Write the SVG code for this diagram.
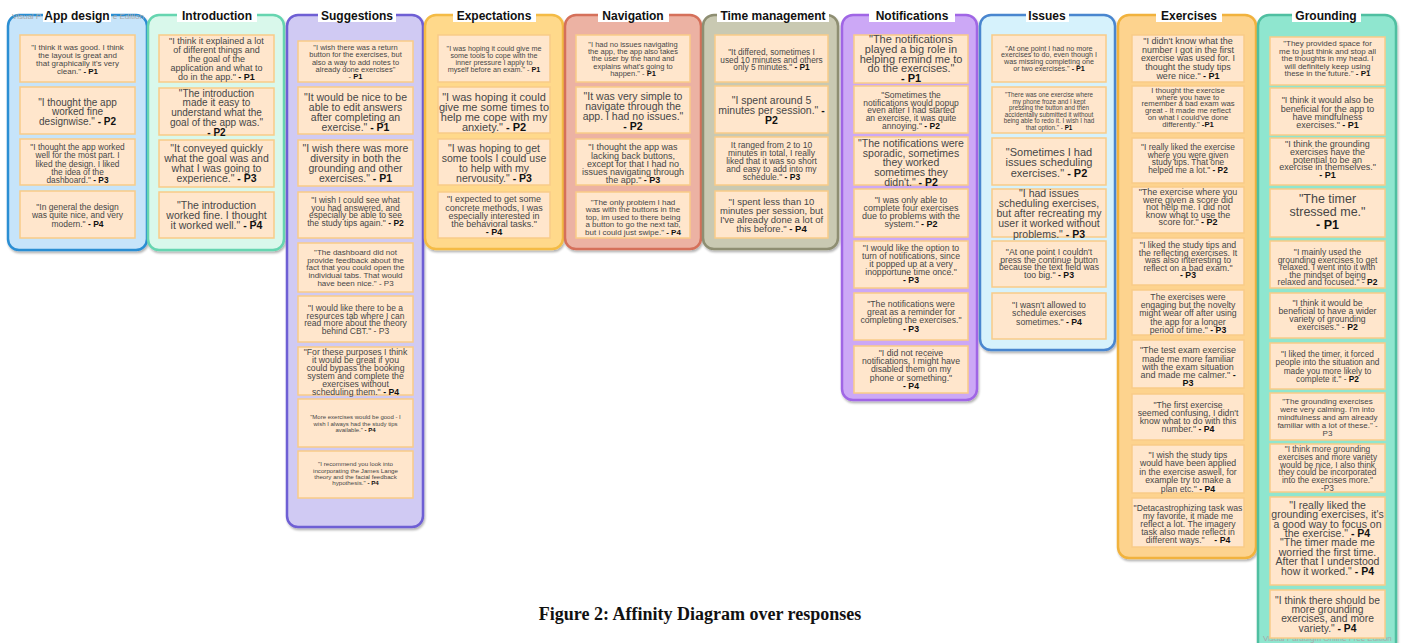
<svg xmlns="http://www.w3.org/2000/svg" width="1403" height="643" viewBox="0 0 1403 643">
<defs>
<filter id="sh" x="-10%" y="-5%" width="125%" height="115%"><feDropShadow dx="1" dy="2" stdDeviation="1.3" flood-color="#000" flood-opacity="0.3"/></filter>
<style>
.col{stroke-width:2.5;filter:url(#sh)}
.card{fill:#FFE6CC;stroke:#F9CB88;stroke-width:1.5}
.t{font-family:"Liberation Sans",Arial,sans-serif;fill:#474747;text-anchor:middle}
.b{font-weight:bold;fill:#111}
.ttl{font-family:"Liberation Sans",Arial,sans-serif;font-weight:bold;font-size:12px;text-anchor:middle;fill:#111}
.tbg{fill:#fff}
.wm{font-family:"Liberation Sans",Arial,sans-serif;font-size:8px;fill:#a8a8a8}
.cap{font-family:"Liberation Serif","Times New Roman",serif;font-weight:bold;font-size:18px;text-anchor:middle;fill:#111}
</style>
</defs>
<rect width="1403" height="643" fill="#fff"/>

<!-- columns -->
<g id="col-app-design">
<rect class="col" x="8" y="15" width="139" height="235" rx="11" fill="#C6E4FA" stroke="#2C8ED3"/>
<text class="wm" x="12" y="19">Visual P</text>
<text class="wm" x="144" y="19" text-anchor="end">e Edition</text>
<rect class="tbg" x="43" y="9" width="68" height="13"/>
<text class="ttl" x="77" y="20">App design</text>
</g>
<g id="col-introduction">
<rect class="col" x="148" y="15" width="136" height="235" rx="11" fill="#D9F8EB" stroke="#66D5B0"/>
<rect class="tbg" x="177" y="9" width="80" height="13"/>
<text class="ttl" x="217" y="20">Introduction</text>
</g>
<g id="col-suggestions">
<rect class="col" x="287" y="15" width="136" height="512" rx="11" fill="#D0CAF3" stroke="#6E5ED4"/>
<rect class="tbg" x="318" y="9" width="78" height="13"/>
<text class="ttl" x="357" y="20">Suggestions</text>
</g>
<g id="col-expectations">
<rect class="col" x="425" y="15" width="138" height="234" rx="11" fill="#FFD98B" stroke="#F4BB44"/>
<rect class="tbg" x="453" y="9" width="83" height="13"/>
<text class="ttl" x="494" y="20">Expectations</text>
</g>
<g id="col-navigation">
<rect class="col" x="565" y="15" width="136" height="234" rx="11" fill="#ECB2A3" stroke="#D5705A"/>
<rect class="tbg" x="598" y="9" width="71" height="13"/>
<text class="ttl" x="633" y="20">Navigation</text>
</g>
<g id="col-time-management">
<rect class="col" x="703" y="15" width="135" height="234" rx="11" fill="#C9C9B2" stroke="#8E8E72"/>
<rect class="tbg" x="717" y="9" width="112" height="13"/>
<text class="ttl" x="773" y="20">Time management</text>
</g>
<g id="col-notifications">
<rect class="col" x="842" y="15" width="135" height="385" rx="11" fill="#CCA8F6" stroke="#A066E5"/>
<rect class="tbg" x="869" y="9" width="86" height="13"/>
<text class="ttl" x="912" y="20">Notifications</text>
</g>
<g id="col-issues">
<rect class="col" x="980" y="15" width="135" height="335" rx="11" fill="#D6F2FC" stroke="#4A86CF"/>
<rect class="tbg" x="1026" y="9" width="43" height="13"/>
<text class="ttl" x="1047" y="20">Issues</text>
</g>
<g id="col-exercises">
<rect class="col" x="1118" y="15" width="138" height="543" rx="11" fill="#FDD38E" stroke="#F1B23C"/>
<rect class="tbg" x="1156" y="9" width="66" height="13"/>
<text class="ttl" x="1189" y="20">Exercises</text>
</g>
<g id="col-grounding">
<rect class="col" x="1258" y="15" width="138" height="640" rx="11" fill="#8FE6CF" stroke="#50BFA1"/>
<rect class="tbg" x="1292" y="9" width="69" height="13"/>
<text class="ttl" x="1326" y="20">Grounding</text>
<text class="wm" x="1263" y="641" font-size="7.5">Visual Paradigm Online Free Edition</text>
</g>

<g id="connectors"/>

<!-- App design cards -->
<g id="app-1"><rect class="card" x="20" y="35" width="115" height="47"/>
<text class="t" font-size="8"><tspan x="77.5" y="50">"I think it was good. I think</tspan><tspan x="77.5" y="58">the layout is great and</tspan><tspan x="77.5" y="66">that graphically it's very</tspan><tspan x="77.5" y="74">clean."  <tspan class="b">- P1</tspan></tspan></text></g>
<g id="app-2"><rect class="card" x="20" y="87" width="115" height="47"/>
<text class="t" font-size="10"><tspan x="77.5" y="105.6">"I thought the app</tspan><tspan x="77.5" y="115.3">worked fine</tspan><tspan x="77.5" y="125">designwise." <tspan class="b">- P2</tspan></tspan></text></g>
<g id="app-3"><rect class="card" x="20" y="139" width="115" height="46"/>
<text class="t" font-size="8.3"><tspan x="77.5" y="150">"I thought the app worked</tspan><tspan x="77.5" y="158.3">well for the most part. I</tspan><tspan x="77.5" y="166.6">liked the design. I liked</tspan><tspan x="77.5" y="174.9">the idea of the</tspan><tspan x="77.5" y="183.2">dashboard." <tspan class="b">- P3</tspan></tspan></text></g>
<g id="app-4"><rect class="card" x="20" y="191" width="115" height="47"/>
<text class="t" font-size="8.5"><tspan x="77.5" y="210">"In general the design</tspan><tspan x="77.5" y="218.3">was quite nice, and very</tspan><tspan x="77.5" y="226.6">modern." <tspan class="b">- P4</tspan></tspan></text></g>

<!-- Introduction cards -->
<g id="intro-1"><rect class="card" x="159" y="35" width="115" height="47"/>
<text class="t" font-size="9"><tspan x="216.5" y="44">"I think it explained a lot</tspan><tspan x="216.5" y="53">of different things and</tspan><tspan x="216.5" y="62">the goal of the</tspan><tspan x="216.5" y="71">application and what to</tspan><tspan x="216.5" y="80">do in the app." <tspan class="b">- P1</tspan></tspan></text></g>
<g id="intro-2"><rect class="card" x="159" y="88" width="115" height="47"/>
<text class="t" font-size="10"><tspan x="216.5" y="96.6">"The introduction</tspan><tspan x="216.5" y="106.4">made it easy to</tspan><tspan x="216.5" y="116.2">understand what the</tspan><tspan x="216.5" y="126">goal of the app was."</tspan><tspan x="216.5" y="135.6" class="b">- P2</tspan></text></g>
<g id="intro-3"><rect class="card" x="159" y="140" width="115" height="47"/>
<text class="t" font-size="10.5"><tspan x="216.5" y="151.8">"It conveyed quickly</tspan><tspan x="216.5" y="161.8">what the goal was and</tspan><tspan x="216.5" y="171.8">what I was going to</tspan><tspan x="216.5" y="181.8">experience." <tspan class="b">- P3</tspan></tspan></text></g>
<g id="intro-4"><rect class="card" x="159" y="192" width="115" height="46"/>
<text class="t" font-size="10.5"><tspan x="216.5" y="208.8">"The introduction</tspan><tspan x="216.5" y="218.8">worked fine. I thought</tspan><tspan x="216.5" y="228.8">it worked well." <tspan class="b">- P4</tspan></tspan></text></g>

<!-- Suggestions cards -->
<g id="sugg-1"><rect class="card" x="298" y="41" width="115" height="41"/>
<text class="t" font-size="7.5"><tspan x="355.5" y="50">"I wish there was a return</tspan><tspan x="355.5" y="57.3">button for the exercises, but</tspan><tspan x="355.5" y="64.6">also a way to add notes to</tspan><tspan x="355.5" y="71.9">already done exercises"</tspan><tspan x="355.5" y="79.2">- <tspan class="b">P1</tspan></tspan></text></g>
<g id="sugg-2"><rect class="card" x="298" y="87" width="115" height="47"/>
<text class="t" font-size="10.5"><tspan x="355.5" y="100.8">"It would be nice to be</tspan><tspan x="355.5" y="110.8">able to edit answers</tspan><tspan x="355.5" y="120.8">after completing an</tspan><tspan x="355.5" y="130.8">exercise." <tspan class="b">- P1</tspan></tspan></text></g>
<g id="sugg-3"><rect class="card" x="298" y="140" width="115" height="46"/>
<text class="t" font-size="10.5"><tspan x="355.5" y="151.8">"I wish there was more</tspan><tspan x="355.5" y="161.8">diversity in both the</tspan><tspan x="355.5" y="171.8">grounding and other</tspan><tspan x="355.5" y="181.8">exercises." <tspan class="b">- P1</tspan></tspan></text></g>
<g id="sugg-4"><rect class="card" x="298" y="192" width="115" height="46"/>
<text class="t" font-size="8.5"><tspan x="355.5" y="203">"I wish I could see what</tspan><tspan x="355.5" y="210.5">you had answered, and</tspan><tspan x="355.5" y="218">especially be able to see</tspan><tspan x="355.5" y="225.5">the study tips again." <tspan class="b">- P2</tspan></tspan></text></g>
<g id="sugg-5"><rect class="card" x="298" y="243" width="115" height="49"/>
<text class="t" font-size="8"><tspan x="355.5" y="255">"The dashboard did not</tspan><tspan x="355.5" y="262.7">provide feedback about the</tspan><tspan x="355.5" y="270.4">fact that you could open the</tspan><tspan x="355.5" y="278.1">individual tabs. That would</tspan><tspan x="355.5" y="285.8">have been nice." - P3</tspan></text></g>
<g id="sugg-6"><rect class="card" x="298" y="296" width="115" height="46"/>
<text class="t" font-size="8.5"><tspan x="355.5" y="311">"I would like there to be a</tspan><tspan x="355.5" y="318.7">resources tab where I can</tspan><tspan x="355.5" y="326.4">read more about the theory</tspan><tspan x="355.5" y="334.1">behind CBT." - P3</tspan></text></g>
<g id="sugg-7"><rect class="card" x="298" y="347" width="115" height="48"/>
<text class="t" font-size="8.7"><tspan x="355.5" y="355">"For these purposes I think</tspan><tspan x="355.5" y="363">it would be great if you</tspan><tspan x="355.5" y="371">could bypass the booking</tspan><tspan x="355.5" y="379">system and complete the</tspan><tspan x="355.5" y="387">exercises without</tspan><tspan x="355.5" y="395">scheduling them." <tspan class="b">- P4</tspan></tspan></text></g>
<g id="sugg-8"><rect class="card" x="298" y="399" width="115" height="48"/>
<text class="t" font-size="6"><tspan x="355.5" y="419">"More exercises would be good - I</tspan><tspan x="355.5" y="425.7">wish I always had the study tips</tspan><tspan x="355.5" y="432.4">available." <tspan class="b">- P4</tspan></tspan></text></g>
<g id="sugg-9"><rect class="card" x="298" y="451" width="115" height="47"/>
<text class="t" font-size="6.2"><tspan x="355.5" y="466.2">"I recommend you look into</tspan><tspan x="355.5" y="472.6">incorporating the James Lange</tspan><tspan x="355.5" y="479">theory and the facial feedback</tspan><tspan x="355.5" y="485.4">hypothesis." <tspan class="b">- P4</tspan></tspan></text></g>

<!-- Expectations cards -->
<g id="exp-1"><rect class="card" x="438" y="35" width="112" height="47"/>
<text class="t" font-size="7.2"><tspan x="494" y="50.6">"I was hoping it could give me</tspan><tspan x="494" y="57.8">some tools to cope with the</tspan><tspan x="494" y="65">inner pressure I apply to</tspan><tspan x="494" y="72.2">myself before an exam." - <tspan class="b">P1</tspan></tspan></text></g>
<g id="exp-2"><rect class="card" x="438" y="87" width="112" height="46"/>
<text class="t" font-size="11"><tspan x="494" y="101">"I was hoping it could</tspan><tspan x="494" y="111">give me some times to</tspan><tspan x="494" y="121">help me cope with my</tspan><tspan x="494" y="131">anxiety." <tspan class="b">- P2</tspan></tspan></text></g>
<g id="exp-3"><rect class="card" x="438" y="139" width="112" height="46"/>
<text class="t" font-size="10.5"><tspan x="494" y="151.8">"I was hoping to get</tspan><tspan x="494" y="161.8">some tools I could use</tspan><tspan x="494" y="171.8">to help with my</tspan><tspan x="494" y="181.8">nervousity." <tspan class="b">- P3</tspan></tspan></text></g>
<g id="exp-4"><rect class="card" x="438" y="192" width="112" height="46"/>
<text class="t" font-size="9"><tspan x="494" y="202.2">"I expected to get some</tspan><tspan x="494" y="210.5">concrete methods, I was</tspan><tspan x="494" y="218.8">especially interested in</tspan><tspan x="494" y="227.1">the behavioral tasks."</tspan><tspan x="494" y="235.4" class="b">- P4</tspan></text></g>

<!-- Navigation cards -->
<g id="nav-1"><rect class="card" x="576" y="35" width="114" height="47"/>
<text class="t" font-size="7.5"><tspan x="633" y="46.7">"I had no issues navigating</tspan><tspan x="633" y="54">the app, the app also takes</tspan><tspan x="633" y="61.3">the user by the hand and</tspan><tspan x="633" y="68.6">explains what's going to</tspan><tspan x="633" y="75.9">happen." - <tspan class="b">P1</tspan></tspan></text></g>
<g id="nav-2"><rect class="card" x="576" y="87" width="114" height="46"/>
<text class="t" font-size="10.5"><tspan x="633" y="99.8">"It was very simple to</tspan><tspan x="633" y="109.8">navigate through the</tspan><tspan x="633" y="119.8">app. I had no issues."</tspan><tspan x="633" y="129.8" class="b">- P2</tspan></text></g>
<g id="nav-3"><rect class="card" x="576" y="139" width="114" height="46"/>
<text class="t" font-size="9"><tspan x="633" y="150.2">"I thought the app was</tspan><tspan x="633" y="158.5">lacking back buttons,</tspan><tspan x="633" y="166.8">except for that I had no</tspan><tspan x="633" y="175.1">issues navigating through</tspan><tspan x="633" y="183.4">the app." <tspan class="b">- P3</tspan></tspan></text></g>
<g id="nav-4"><rect class="card" x="576" y="192" width="114" height="46"/>
<text class="t" font-size="8"><tspan x="633" y="204.9">"The only problem I had</tspan><tspan x="633" y="212.4">was with the buttons in the</tspan><tspan x="633" y="219.9">top, im used to there being</tspan><tspan x="633" y="227.4">a button to go the next tab,</tspan><tspan x="633" y="234.9">but i could just swipe." <tspan class="b">- P4</tspan></tspan></text></g>

<!-- Time management cards -->
<g id="time-1"><rect class="card" x="715" y="35" width="113" height="47"/>
<text class="t" font-size="8.3"><tspan x="771.5" y="55">"It differed, sometimes I</tspan><tspan x="771.5" y="62.5">used 10 minutes and others</tspan><tspan x="771.5" y="70">only 5 minutes." <tspan class="b">- P1</tspan></tspan></text></g>
<g id="time-2"><rect class="card" x="715" y="86" width="113" height="47"/>
<text class="t" font-size="10.5"><tspan x="771.5" y="103.8">"I spent around 5</tspan><tspan x="771.5" y="113.8">minutes per session." <tspan class="b">-</tspan></tspan><tspan x="771.5" y="123.8" class="b">P2</tspan></text></g>
<g id="time-3"><rect class="card" x="715" y="137" width="113" height="48"/>
<text class="t" font-size="8.5"><tspan x="771.5" y="148">It ranged from 2 to 10</tspan><tspan x="771.5" y="156">minutes in total, I really</tspan><tspan x="771.5" y="164">liked that it was so short</tspan><tspan x="771.5" y="172">and easy to add into my</tspan><tspan x="771.5" y="180">schedule." <tspan class="b">- P3</tspan></tspan></text></g>
<g id="time-4"><rect class="card" x="715" y="191" width="113" height="47"/>
<text class="t" font-size="9.5"><tspan x="771.5" y="205.4">"I spent less than 10</tspan><tspan x="771.5" y="214.4">minutes per session, but</tspan><tspan x="771.5" y="223.4">I've already done a lot of</tspan><tspan x="771.5" y="232.4">this before." <tspan class="b">- P4</tspan></tspan></text></g>

<!-- Notifications cards -->
<g id="notif-1"><rect class="card" x="854" y="35" width="114" height="48"/>
<text class="t" font-size="11"><tspan x="911" y="43">"The notifications</tspan><tspan x="911" y="52.8">played a big role in</tspan><tspan x="911" y="62.6">helping remind me to</tspan><tspan x="911" y="72.4">do the exercises."</tspan><tspan x="911" y="82.2" class="b">- P1</tspan></text></g>
<g id="notif-2"><rect class="card" x="854" y="86" width="114" height="47"/>
<text class="t" font-size="8.5"><tspan x="911" y="98">"Sometimes the</tspan><tspan x="911" y="105.7">notifications would popup</tspan><tspan x="911" y="113.4">even after I had started</tspan><tspan x="911" y="121.1">an exercise, it was quite</tspan><tspan x="911" y="128.8">annoying." <tspan class="b">- P2</tspan></tspan></text></g>
<g id="notif-3"><rect class="card" x="854" y="137" width="114" height="48"/>
<text class="t" font-size="10.5"><tspan x="911" y="146.8">"The notifications were</tspan><tspan x="911" y="156.6">sporadic, sometimes</tspan><tspan x="911" y="166.4">they worked</tspan><tspan x="911" y="176.2">sometimes they</tspan><tspan x="911" y="186">didn't." <tspan class="b">- P2</tspan></tspan></text></g>
<g id="notif-4"><rect class="card" x="854" y="189" width="114" height="48"/>
<text class="t" font-size="9"><tspan x="911" y="203.2">"I was only able to</tspan><tspan x="911" y="211.2">complete four exercises</tspan><tspan x="911" y="219.2">due to problems with the</tspan><tspan x="911" y="227.2">system." <tspan class="b">- P2</tspan></tspan></text></g>
<g id="notif-5"><rect class="card" x="854" y="241" width="114" height="47"/>
<text class="t" font-size="8.7"><tspan x="911" y="251">"I would like the option to</tspan><tspan x="911" y="259">turn of notifications, since</tspan><tspan x="911" y="267">it popped up at a very</tspan><tspan x="911" y="275">inopportune time once."</tspan><tspan x="911" y="283" class="b">- P3</tspan></text></g>
<g id="notif-6"><rect class="card" x="854" y="293" width="114" height="47"/>
<text class="t" font-size="8.7"><tspan x="911" y="307">"The notifications were</tspan><tspan x="911" y="315.2">great as a reminder for</tspan><tspan x="911" y="323.4">completing the exercises."</tspan><tspan x="911" y="331.6" class="b">- P3</tspan></text></g>
<g id="notif-7"><rect class="card" x="854" y="346" width="114" height="47"/>
<text class="t" font-size="8.7"><tspan x="911" y="356">"I did not receive</tspan><tspan x="911" y="364.2">notifications, I might have</tspan><tspan x="911" y="372.4">disabled them on my</tspan><tspan x="911" y="380.6">phone or something."</tspan><tspan x="911" y="388.8" class="b">-  P4</tspan></text></g>

<!-- Issues cards -->
<g id="issue-1"><rect class="card" x="992" y="35" width="114" height="47"/>
<text class="t" font-size="7.2"><tspan x="1049" y="50.6">"At one point I had no more</tspan><tspan x="1049" y="57.3">exercises to do, even though I</tspan><tspan x="1049" y="64">was missing completing one</tspan><tspan x="1049" y="70.7">or two exercises." <tspan class="b">- P1</tspan></tspan></text></g>
<g id="issue-2"><rect class="card" x="992" y="87" width="114" height="46"/>
<text class="t" font-size="6.3"><tspan x="1049" y="97.3">"There was one exercise where</tspan><tspan x="1049" y="103.8">my phone froze and I kept</tspan><tspan x="1049" y="110.3">pressing the button and then</tspan><tspan x="1049" y="116.8">accidentally submitted it without</tspan><tspan x="1049" y="123.3">being able to redo it. I wish I had</tspan><tspan x="1049" y="129.8">that option." - <tspan class="b">P1</tspan></tspan></text></g>
<g id="issue-3"><rect class="card" x="992" y="138" width="114" height="47"/>
<text class="t" font-size="11"><tspan x="1049" y="156">"Sometimes I had</tspan><tspan x="1049" y="166.3">issues scheduling</tspan><tspan x="1049" y="176.6">exercises." <tspan class="b">- P2</tspan></tspan></text></g>
<g id="issue-4"><rect class="card" x="992" y="189" width="114" height="48"/>
<text class="t" font-size="10.5"><tspan x="1049" y="196.8">"I had issues</tspan><tspan x="1049" y="207">scheduling exercises,</tspan><tspan x="1049" y="217.2">but after recreating my</tspan><tspan x="1049" y="227.4">user it worked without</tspan><tspan x="1049" y="237.6">problems." <tspan class="b">- P3</tspan></tspan></text></g>
<g id="issue-5"><rect class="card" x="992" y="241" width="114" height="46"/>
<text class="t" font-size="8.7"><tspan x="1049" y="255">"At one point I couldn't</tspan><tspan x="1049" y="262.5">press the continue button</tspan><tspan x="1049" y="270">because the text field was</tspan><tspan x="1049" y="277.5">too big." <tspan class="b">- P3</tspan></tspan></text></g>
<g id="issue-6"><rect class="card" x="992" y="293" width="114" height="46"/>
<text class="t" font-size="8.7"><tspan x="1049" y="308">"I wasn't allowed to</tspan><tspan x="1049" y="316.3">schedule exercises</tspan><tspan x="1049" y="324.6">sometimes." <tspan class="b">- P4</tspan></tspan></text></g>

<!-- Exercises cards -->
<g id="ex-1"><rect class="card" x="1132" y="35" width="112" height="47"/>
<text class="t" font-size="9"><tspan x="1188" y="44.2">"I didn't know what the</tspan><tspan x="1188" y="52.8">number I got in the first</tspan><tspan x="1188" y="61.4">exercise was used for. I</tspan><tspan x="1188" y="70">thought the study tips</tspan><tspan x="1188" y="78.6">were nice." <tspan class="b">- P1</tspan></tspan></text></g>
<g id="ex-2"><rect class="card" x="1132" y="86" width="112" height="47"/>
<text class="t" font-size="7.7"><tspan x="1188" y="92.8">I thought the exercise</tspan><tspan x="1188" y="99.6">where you have to</tspan><tspan x="1188" y="106.4">remember a bad exam was</tspan><tspan x="1188" y="113.2">great - It made me reflect</tspan><tspan x="1188" y="120">on what I could've done</tspan><tspan x="1188" y="126.8">differently." <tspan class="b">-P1</tspan></tspan></text></g>
<g id="ex-3"><rect class="card" x="1132" y="138" width="112" height="45"/>
<text class="t" font-size="8.3"><tspan x="1188" y="150">"I really liked the exercise</tspan><tspan x="1188" y="157.7">where you were given</tspan><tspan x="1188" y="165.4">study tips. That one</tspan><tspan x="1188" y="173.1">helped me a lot." <tspan class="b">- P2</tspan></tspan></text></g>
<g id="ex-4"><rect class="card" x="1132" y="187" width="112" height="46"/>
<text class="t" font-size="9"><tspan x="1188" y="195.2">"The exercise where you</tspan><tspan x="1188" y="202.7">were given a score did</tspan><tspan x="1188" y="210.2">not help me. I did not</tspan><tspan x="1188" y="217.7">know what to use the</tspan><tspan x="1188" y="225.2">score for." <tspan class="b">- P2</tspan></tspan></text></g>
<g id="ex-5"><rect class="card" x="1132" y="238" width="112" height="47"/>
<text class="t" font-size="8.7"><tspan x="1188" y="248">"I liked the study tips and</tspan><tspan x="1188" y="255.5">the reflecting exercises. It</tspan><tspan x="1188" y="263">was also interesting to</tspan><tspan x="1188" y="270.5">reflect on a bad exam."</tspan><tspan x="1188" y="278" class="b">- P3</tspan></text></g>
<g id="ex-6"><rect class="card" x="1132" y="290" width="112" height="45"/>
<text class="t" font-size="8.7"><tspan x="1188" y="300">The exercises were</tspan><tspan x="1188" y="308.2">engaging but the novelty</tspan><tspan x="1188" y="316.4">might wear off after using</tspan><tspan x="1188" y="324.6">the app for a longer</tspan><tspan x="1188" y="332.8">period of time." <tspan class="b">- P3</tspan></tspan></text></g>
<g id="ex-7"><rect class="card" x="1132" y="340" width="112" height="48"/>
<text class="t" font-size="9"><tspan x="1188" y="353.2">"The test exam exercise</tspan><tspan x="1188" y="361.5">made me more familiar</tspan><tspan x="1188" y="369.8">with the exam situation</tspan><tspan x="1188" y="378.1">and made me calmer." <tspan class="b">-</tspan></tspan><tspan x="1188" y="386.4" class="b">P3</tspan></text></g>
<g id="ex-8"><rect class="card" x="1132" y="394" width="112" height="46"/>
<text class="t" font-size="8.7"><tspan x="1188" y="408">"The first exercise</tspan><tspan x="1188" y="416">seemed confusing, I didn't</tspan><tspan x="1188" y="424">know what to do with this</tspan><tspan x="1188" y="432">number." <tspan class="b">- P4</tspan></tspan></text></g>
<g id="ex-9"><rect class="card" x="1132" y="445" width="112" height="48"/>
<text class="t" font-size="8.7"><tspan x="1188" y="458">"I wish the study tips</tspan><tspan x="1188" y="466.4">would have been applied</tspan><tspan x="1188" y="474.8">in the exercise aswell, for</tspan><tspan x="1188" y="483.2">example try to make a</tspan><tspan x="1188" y="491.6">plan etc." <tspan class="b">- P4</tspan></tspan></text></g>
<g id="ex-10"><rect class="card" x="1132" y="498" width="112" height="49"/>
<text class="t" font-size="8.7"><tspan x="1188" y="511">"Detacastrophizing task was</tspan><tspan x="1188" y="518.9">my favorite, it made me</tspan><tspan x="1188" y="526.8">reflect a lot. The imagery</tspan><tspan x="1188" y="534.7">task also made reflect in</tspan><tspan x="1188" y="542.6" xml:space="preserve">different ways."    <tspan class="b">- P4</tspan></tspan></text></g>

<!-- Grounding cards -->
<g id="gr-1"><rect class="card" x="1270" y="37" width="115" height="48"/>
<text class="t" font-size="8"><tspan x="1327.5" y="46">"They provided space for</tspan><tspan x="1327.5" y="53.5">me to just think and stop all</tspan><tspan x="1327.5" y="61">the thoughts in my head. I</tspan><tspan x="1327.5" y="68.5">will definitely keep using</tspan><tspan x="1327.5" y="76">these in the future." <tspan class="b">- P1</tspan></tspan></text></g>
<g id="gr-2"><rect class="card" x="1270" y="88" width="115" height="47"/>
<text class="t" font-size="9"><tspan x="1327.5" y="103.2">"I think it would also be</tspan><tspan x="1327.5" y="111.5">beneficial for the app to</tspan><tspan x="1327.5" y="119.8">have mindfulness</tspan><tspan x="1327.5" y="128.1">exercises." <tspan class="b">- P1</tspan></tspan></text></g>
<g id="gr-3"><rect class="card" x="1270" y="138" width="115" height="47"/>
<text class="t" font-size="9"><tspan x="1327.5" y="147.2">"I think the grounding</tspan><tspan x="1327.5" y="154.9">exercises have the</tspan><tspan x="1327.5" y="162.6">potential to be an</tspan><tspan x="1327.5" y="170.3">exercise in themselves."</tspan><tspan x="1327.5" y="178" class="b">- P1</tspan></text></g>
<g id="gr-4"><rect class="card" x="1270" y="189" width="115" height="48"/>
<text class="t" font-size="12.5"><tspan x="1327.5" y="203">"The timer</tspan><tspan x="1327.5" y="216">stressed me."</tspan><tspan x="1327.5" y="229" class="b">- P1</tspan></text></g>
<g id="gr-5"><rect class="card" x="1270" y="241" width="115" height="47"/>
<text class="t" font-size="8.5"><tspan x="1327.5" y="255">"I mainly used the</tspan><tspan x="1327.5" y="262.5">grounding exercises to get</tspan><tspan x="1327.5" y="270">relaxed. I went into it with</tspan><tspan x="1327.5" y="277.5">the mindset of being</tspan><tspan x="1327.5" y="285">relaxed and focused." - <tspan class="b">P2</tspan></tspan></text></g>
<g id="gr-6"><rect class="card" x="1270" y="293" width="115" height="45"/>
<text class="t" font-size="8.7"><tspan x="1327.5" y="306">"I think it would be</tspan><tspan x="1327.5" y="314">beneficial to have a wider</tspan><tspan x="1327.5" y="322">variety of grounding</tspan><tspan x="1327.5" y="330">exercises." - <tspan class="b">P2</tspan></tspan></text></g>
<g id="gr-7"><rect class="card" x="1270" y="343" width="115" height="46"/>
<text class="t" font-size="8.3"><tspan x="1327.5" y="357">"I liked the timer, it forced</tspan><tspan x="1327.5" y="365.3">people into the situation and</tspan><tspan x="1327.5" y="373.6">made you more likely to</tspan><tspan x="1327.5" y="381.9">complete it." - <tspan class="b">P2</tspan></tspan></text></g>
<g id="gr-8"><rect class="card" x="1270" y="393" width="115" height="47"/>
<text class="t" font-size="8"><tspan x="1327.5" y="404">"The grounding exercises</tspan><tspan x="1327.5" y="412">were very calming. I'm into</tspan><tspan x="1327.5" y="420">mindfulness and am already</tspan><tspan x="1327.5" y="428">familiar with a lot of these." -</tspan><tspan x="1327.5" y="436">P3</tspan></text></g>
<g id="gr-9"><rect class="card" x="1270" y="444" width="115" height="48"/>
<text class="t" font-size="8.3"><tspan x="1327.5" y="452">"I think more grounding</tspan><tspan x="1327.5" y="459.8">exercises and more variety</tspan><tspan x="1327.5" y="467.6">would be nice. I also think</tspan><tspan x="1327.5" y="475.4">they could be incorporated</tspan><tspan x="1327.5" y="483.2">into the exercises more."</tspan><tspan x="1327.5" y="491">-P3</tspan></text></g>
<g id="gr-10"><rect class="card" x="1270" y="497" width="115" height="88"/>
<text class="t" font-size="10.5"><tspan x="1327.5" y="508.8">"I really liked the</tspan><tspan x="1327.5" y="518.2">grounding exercises, it's</tspan><tspan x="1327.5" y="527.6">a good way to focus on</tspan><tspan x="1327.5" y="537">the exercise." <tspan class="b">- P4</tspan></tspan><tspan x="1327.5" y="546.4">"The timer made me</tspan><tspan x="1327.5" y="555.8">worried the first time.</tspan><tspan x="1327.5" y="565.2">After that I understood</tspan><tspan x="1327.5" y="574.6">how it worked." <tspan class="b">- P4</tspan></tspan></text></g>
<g id="gr-11"><rect class="card" x="1270" y="590" width="115" height="48"/>
<text class="t" font-size="10.3"><tspan x="1327.5" y="603.7">"I think there should be</tspan><tspan x="1327.5" y="613">more grounding</tspan><tspan x="1327.5" y="622.3">exercises, and more</tspan><tspan x="1327.5" y="631.6">variety." <tspan class="b">- P4</tspan></tspan></text></g>

<text class="cap" x="700" y="620">Figure 2: Affinity Diagram over responses</text>
</svg>
